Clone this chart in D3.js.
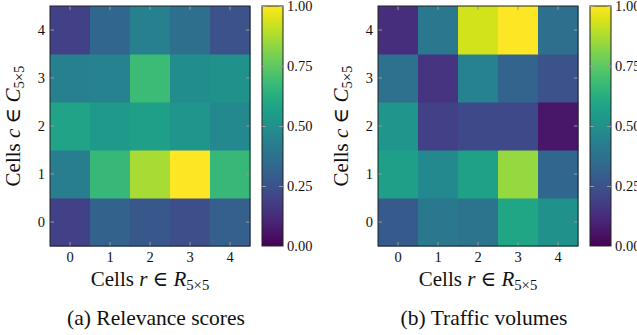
<!DOCTYPE html>
<html>
<head>
<meta charset="utf-8">
<script src="https://cdn.jsdelivr.net/npm/d3@7"></script>
<style>
  body { margin: 0; background: #fff; }
</style>
</head>
<body>
<svg id="chart" width="637" height="335"></svg>
<script>
// Cell indices (r along x, c along y)
var cellsR = [0, 1, 2, 3, 4];
var cellsC = [0, 1, 2, 3, 4];
var cbarTicks = [0, 0.25, 0.5, 0.75, 1];

// rows listed from c = 0 up to c = 4, columns r = 0..4
var relevance = [
    [0.19, 0.31, 0.27, 0.24, 0.30],
    [0.42, 0.67, 0.87, 1.00, 0.67],
    [0.58, 0.54, 0.56, 0.52, 0.47],
    [0.43, 0.44, 0.68, 0.49, 0.50],
    [0.19, 0.33, 0.43, 0.36, 0.25]
];
var traffic = [
    [0.28, 0.40, 0.38, 0.59, 0.50],
    [0.56, 0.47, 0.57, 0.84, 0.33],
    [0.52, 0.19, 0.22, 0.22, 0.06],
    [0.37, 0.15, 0.44, 0.32, 0.25],
    [0.13, 0.40, 0.93, 1.00, 0.36]
];

var panels = [
    { x0: 50, cbX: 262, values: relevance, caption: '(a) Relevance scores', capX: 156 },
    { x0: 378, cbX: 590, values: traffic, caption: '(b) Traffic volumes', capX: 484 }
];

var FONT = 'Liberation Serif, Tinos, Nimbus Roman, DejaVu Serif, serif';
var TOP = 6, H = 240, W = 200, CB_W = 21, TICK = 4;
var TICK_FS = 14.5, LABEL_FS = 21, CAPTION_FS = 21.5;
var TICK_COLOR = '#999';
var svg = d3.select('#chart');
var color = d3.scaleSequential(d3.interpolateViridis).domain([0, 1]);

// Gradient for colorbars
var grad = svg.append('defs').append('linearGradient')
    .attr('id', 'viridis').attr('x1', 0).attr('y1', 1).attr('x2', 0).attr('y2', 0);
d3.range(0, 1.0001, 0.05).forEach(function (t) {
    grad.append('stop').attr('offset', t).attr('stop-color', color(t));
});

// "Cells v ∈ S_{5×5}" style label
function mathLabel(sel, v, set) {
    sel.append('tspan').text('Cells ');
    sel.append('tspan').attr('font-style', 'italic').text(v);
    sel.append('tspan').text(' \u2208 ');
    sel.append('tspan').attr('font-style', 'italic').text(set);
    sel.append('tspan').attr('font-size', LABEL_FS * 0.7).attr('dy', 4).text('5\u00d75');
}

panels.forEach(function (p) {
    var g = svg.append('g');
    var x = d3.scaleBand().domain(cellsR).range([p.x0, p.x0 + W]);
    var y = d3.scaleBand().domain(cellsC).range([TOP + H, TOP]);

    // Heatmap cells
    p.values.forEach(function (row, ci) {
        row.forEach(function (v, ri) {
            g.append('rect')
                .attr('x', x(cellsR[ri])).attr('y', y(cellsC[ci]))
                .attr('width', x.bandwidth() + 0.5).attr('height', y.bandwidth() + 0.5)
                .attr('fill', color(v));
        });
    });

    // Axes with inward ticks on all sides
    var ax = function (axis, tx, ty, showLabels) {
        var a = g.append('g').attr('transform', 'translate(' + tx + ',' + ty + ')').call(axis);
        a.attr('font-family', FONT);
        a.select('.domain').remove();
        a.selectAll('.tick line').attr('stroke', TICK_COLOR).attr('stroke-width', 1);
        a.selectAll('.tick text').attr('font-size', TICK_FS).attr('fill', '#111')
            .attr('font-family', FONT)
            .style('display', showLabels ? null : 'none');
        return a;
    };
    ax(d3.axisBottom(x).tickSizeInner(-TICK).tickPadding(6), 0, TOP + H, true);
    ax(d3.axisTop(x).tickSizeInner(-TICK), 0, TOP, false);
    ax(d3.axisLeft(y).tickSizeInner(-TICK).tickPadding(5), p.x0, 0, true);
    ax(d3.axisRight(y).tickSizeInner(-TICK), p.x0 + W, 0, false);

    g.append('rect').attr('x', p.x0).attr('y', TOP).attr('width', W).attr('height', H)
        .attr('fill', 'none').attr('stroke', '#222').attr('stroke-width', 1);

    // Colorbar
    var cy = d3.scaleLinear().domain([0, 1]).range([TOP + H, TOP]);
    g.append('rect').attr('x', p.cbX).attr('y', TOP).attr('width', CB_W).attr('height', H)
        .attr('fill', 'url(#viridis)').attr('stroke', '#222').attr('stroke-width', 1);
    ax(d3.axisRight(cy).tickValues(cbarTicks).tickFormat(d3.format('.2f'))
        .tickSizeInner(-TICK).tickPadding(4), p.cbX + CB_W, 0, true);
    ax(d3.axisLeft(cy).tickValues(cbarTicks).tickSizeInner(-TICK), p.cbX, 0, false);

    // Axis labels
    var xl = g.append('text').attr('x', p.x0 + W / 2).attr('y', 286)
        .attr('text-anchor', 'middle').attr('font-size', LABEL_FS)
        .attr('font-family', FONT).attr('fill', '#111');
    mathLabel(xl, 'r', 'R');

    var yl = g.append('text').attr('transform', 'translate(' + (p.x0 - 30) + ',' + (TOP + H / 2) + ') rotate(-90)')
        .attr('text-anchor', 'middle').attr('font-size', LABEL_FS)
        .attr('font-family', FONT).attr('fill', '#111');
    mathLabel(yl, 'c', 'C');

    // Caption
    g.append('text').attr('x', p.capX).attr('y', 325).attr('text-anchor', 'middle')
        .attr('font-size', CAPTION_FS).attr('font-family', FONT).attr('fill', '#111').text(p.caption);
});
</script>
</body>
</html>
